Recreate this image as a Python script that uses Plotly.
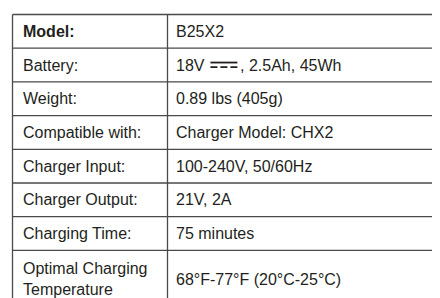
import plotly.graph_objects as go

# ---- data ----
NB = "\u00a0"
labels = ["<b>Model:</b>", "Battery:", "Weight:", "Compatible with:", "Charger Input:",
          "Charger Output:", "Charging Time:", "Optimal Charging<br>Temperature"]
values = ["B25X2", "18V" + NB * 8 + ", 2.5Ah, 45Wh", "0.89 lbs (405g)", "Charger Model: CHX2",
          "100-240V, 50/60Hz", "21V, 2A", "75 minutes", "68°F-77°F (20°C-25°C)"]
DC_ROW = 1  # row holding the DC-current symbol, drawn after the "18V " prefix

# ---- style / geometry ----
W, H = 440, 298
X_LEFT, X_SPLIT, X_RIGHT = 4.5, 159.5, 445
Y_TOP = 6.5
ROW_H = 33.7
EXTRA_LINE_H = 24
PAD_L, PAD_V = 8, 6
FS = 16
FONT = "Liberation Sans, Arial, sans-serif"
TXT = "#231f20"
LINE = "#4a4a4a"

heights = [ROW_H + EXTRA_LINE_H * lab.count("<br>") for lab in labels]
bounds = [Y_TOP]
for h in heights:
    bounds.append(bounds[-1] + h)

shapes = []
for yb in bounds:
    shapes.append(dict(type="line", xref="x", yref="y", x0=X_LEFT, x1=X_RIGHT, y0=yb, y1=yb,
                       line=dict(color=LINE, width=1.3)))
for xv in (X_LEFT, X_SPLIT):
    shapes.append(dict(type="line", xref="x", yref="y", x0=xv, x1=xv, y0=Y_TOP, y1=bounds[-1] + 20,
                       line=dict(color=LINE, width=1.3)))

annotations = []
for i, (lab, val) in enumerate(zip(labels, values)):
    yc = (bounds[i] + bounds[i + 1]) / 2
    annotations.append(dict(x=X_LEFT + PAD_L, y=yc, xref="x", yref="y", text=lab,
                            showarrow=False, xanchor="left", yanchor="middle", align="left",
                            font=dict(family=FONT, size=FS, color=TXT)))
    annotations.append(dict(x=X_SPLIT + PAD_V, y=yc, xref="x", yref="y", text=val,
                            showarrow=False, xanchor="left", yanchor="middle", align="left",
                            font=dict(family=FONT, size=FS, color=TXT)))

# DC symbol (solid line over dashed line) after "18V " using Arial metrics
yc = (bounds[DC_ROW] + bounds[DC_ROW + 1]) / 2
sx0 = X_SPLIT + PAD_V + (556 + 556 + 667 + 278) / 1000 * FS + 4
sx1 = sx0 + 27
shapes.append(dict(type="line", xref="x", yref="y", x0=sx0, x1=sx1, y0=yc - 2.5, y1=yc - 2.5,
                   line=dict(color=TXT, width=1.8)))
shapes.append(dict(type="line", xref="x", yref="y", x0=sx0, x1=sx1, y0=yc + 2, y1=yc + 2,
                   line=dict(color=TXT, width=1.8, dash="7px,3px")))

fig = go.Figure()
fig.update_layout(
    width=W, height=H, margin=dict(l=0, r=0, t=0, b=0),
    paper_bgcolor="white", plot_bgcolor="white",
    xaxis=dict(range=[0, W], visible=False, fixedrange=True),
    yaxis=dict(range=[H, 0], visible=False, fixedrange=True),
    shapes=shapes, annotations=annotations, showlegend=False,
)
fig.write_html("out.html")
